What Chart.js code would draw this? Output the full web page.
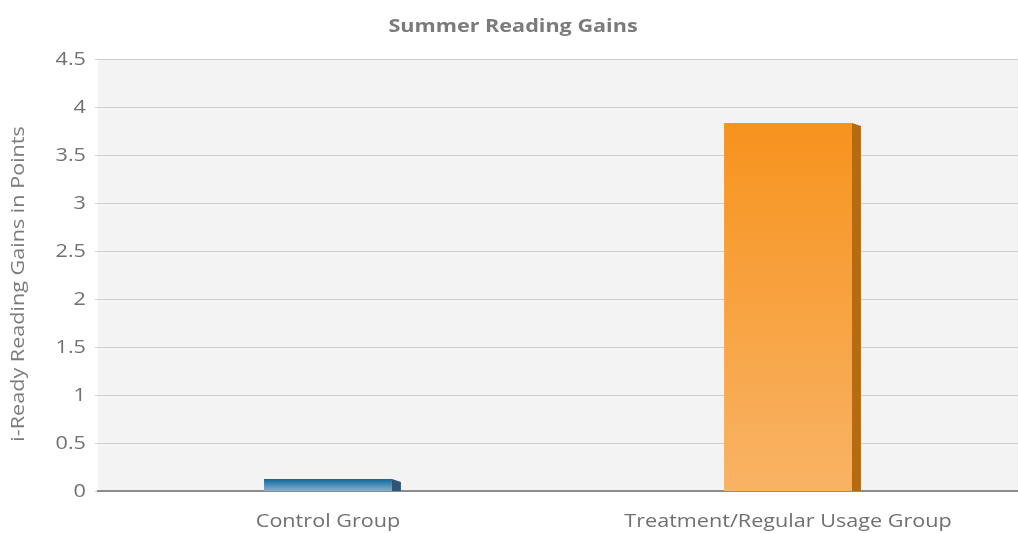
<!DOCTYPE html>
<html>
<head>
<meta charset="utf-8">
<script src="https://cdn.jsdelivr.net/npm/chart.js@4.4.0/dist/chart.umd.min.js"></script>
<style>
  html, body { margin: 0; padding: 0; background: #fff; }
  #wrap { width: 1018px; height: 533px; }
</style>
</head>
<body>
<div id="wrap"><canvas id="gainsChart"></canvas></div>
<script>
// data
const groups = ['Control Group', 'Treatment/Regular Usage Group'];
const gains = [0.13, 3.84];
const frontTop = ['#0b6899', '#f7931e'];
const frontBottom = ['#8db2d3', '#f9b365'];
const sideColors = ['#2f5576', '#b76b10'];

const fontFamily = "'Open Sans', sans-serif";

// the original picture was stretched sideways, so its text is wide too
const textStretch = 1.2;
function stretchText(c) {
    const fill = c.fillText.bind(c);
    const measure = c.measureText.bind(c);
    c.fillText = function(text, x, y) {
        c.save();
        c.translate(x, y);
        c.scale(textStretch, 1);
        fill(text, 0, 0);
        c.restore();
    };
    c.measureText = function(text) {
        const m = measure(text);
        return {
            width: m.width * textStretch,
            actualBoundingBoxAscent: m.actualBoundingBoxAscent,
            actualBoundingBoxDescent: m.actualBoundingBoxDescent
        };
    };
}

// plot background + 3d side of each bar
const decorPlugin = {
    id: 'decor',
    beforeDraw(chart) {
        const a = chart.chartArea;
        const ctx = chart.ctx;
        ctx.save();
        ctx.fillStyle = '#f3f3f3';
        ctx.fillRect(a.left, a.top, a.right - a.left, a.bottom - a.top);
        ctx.restore();
    },
    afterDatasetsDraw(chart) {
        const ctx = chart.ctx;
        const meta = chart.getDatasetMeta(0);
        meta.data.forEach((bar, i) => {
            const right = bar.x + bar.width / 2;
            const depth = 9;
            ctx.save();
            ctx.fillStyle = sideColors[i];
            ctx.beginPath();
            ctx.moveTo(right, bar.y);
            ctx.lineTo(right + depth, bar.y + 3);
            ctx.lineTo(right + depth, bar.base);
            ctx.lineTo(right, bar.base);
            ctx.closePath();
            ctx.fill();
            ctx.restore();
        });
    }
};

const ctx = document.getElementById('gainsChart').getContext('2d');
stretchText(ctx);
new Chart(ctx, {
    type: 'bar',
    data: {
        labels: groups,
        datasets: [{
            data: gains,
            backgroundColor: function(context) {
                const chart = context.chart;
                const a = chart.chartArea;
                if (!a || !chart.scales.y) return frontTop[context.dataIndex];
                const top = chart.scales.y.getPixelForValue(gains[context.dataIndex]);
                const g = chart.ctx.createLinearGradient(0, top, 0, a.bottom);
                g.addColorStop(0, frontTop[context.dataIndex]);
                g.addColorStop(1, frontBottom[context.dataIndex]);
                return g;
            },
            borderWidth: 0,
            categoryPercentage: 1,
            barPercentage: 0.278
        }]
    },
    options: {
        responsive: true,
        maintainAspectRatio: false,
        animation: false,
        layout: { padding: { top: 2, right: 0, bottom: 0, left: 8 } },
        plugins: {
            legend: { display: false },
            tooltip: { enabled: false },
            title: {
                display: true,
                text: 'Summer Reading Gains',
                color: '#7b7b7b',
                font: { family: fontFamily, size: 18, weight: 'bold' },
                padding: { top: 14, bottom: 22 }
            }
        },
        scales: {
            x: {
                grid: { display: false, drawTicks: true, tickLength: 20 },
                border: { color: '#8c8c8c', width: 2 },
                ticks: {
                    color: '#707070',
                    font: { family: fontFamily, size: 18 },
                    padding: 0
                }
            },
            y: {
                min: 0,
                max: 4.5,
                ticks: {
                    stepSize: 0.5,
                    color: '#707070',
                    font: { family: fontFamily, size: 18 },
                    padding: 9,
                    callback: v => String(Number(v.toFixed(1)))
                },
                grid: { color: '#cfcfcf', lineWidth: 1, tickLength: 3 },
                border: { display: false },
                title: {
                    display: true,
                    text: 'i-Ready Reading Gains in Points   ',
                    color: '#7b7b7b',
                    font: { family: fontFamily, size: 18 },
                    padding: { top: 0, bottom: 17 }
                }
            }
        }
    },
    plugins: [decorPlugin]
});
</script>
</body>
</html>
